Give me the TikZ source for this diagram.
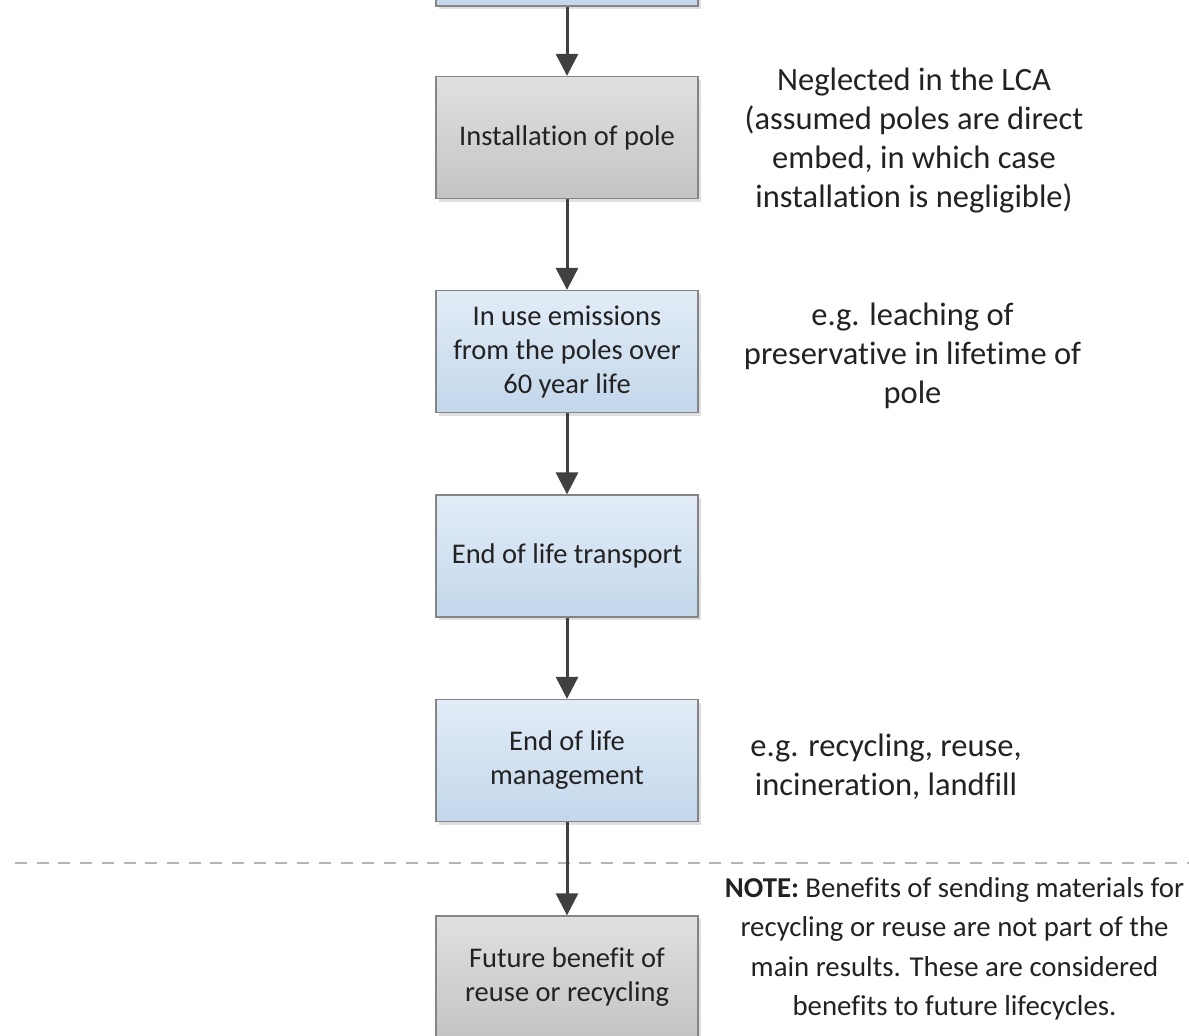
\documentclass[tikz,border=0pt]{standalone}
\usepackage{fontspec}
\setmainfont{Carlito}[Ligatures=NoCommon]
\usetikzlibrary{arrows.meta,shadows}
\definecolor{edgegray}{HTML}{858585}
\definecolor{arrowgray}{HTML}{404040}
\definecolor{txt}{HTML}{222222}
\definecolor{graytop}{HTML}{E0E0E0}
\definecolor{graybot}{HTML}{C4C4C4}
\definecolor{bluetop}{HTML}{E2ECF7}
\definecolor{bluebot}{HTML}{C3D7EB}
\definecolor{dashgray}{HTML}{B5B5B5}
\tikzset{
  boxbase/.style={draw=edgegray, line width=1.3pt, minimum width=262pt, minimum height=122pt,
    inner sep=0pt, align=center, text=txt,
    font=\fontsize{28.5}{34}\selectfont,
    drop shadow={shadow xshift=3pt, shadow yshift=-3pt, fill=black!18, opacity=0.7}},
  graybox/.style={boxbase, top color=graytop, bottom color=graybot},
  bluebox/.style={boxbase, top color=bluetop, bottom color=bluebot},
  note/.style={align=center, text=txt, inner sep=0pt, font=\fontsize{32.5}{39}\selectfont},
  smallnote/.style={align=center, text=txt, inner sep=0pt, font=\fontsize{28.8}{39.5}\selectfont},
  flow/.style={draw=arrowgray, line width=3pt, -{Triangle[width=22pt,length=22pt]}},
  sep/.style={draw=dashgray, line width=2.5pt, dash pattern=on 12pt off 9.7pt}
}
\begin{document}
\begin{tikzpicture}[x=1pt,y=-1pt]
\useasboundingbox (0,0) rectangle (1189,1036);
\node[bluebox] (b0) at (567,-55) {};
\node[graybox] (b1) at (567,137.5) {Installation of pole};
\node[bluebox] (b2) at (567,351.5) {In use emissions\\from the poles over\\60 year life};
\node[bluebox] (b3) at (567,556) {End of life transport};
\node[bluebox] (b4) at (567,760.5) {End of life\\management};
\node[graybox] (b5) at (567,977) {Future benefit of\\reuse or recycling};

\coordinate (dl) at (15,863);
\coordinate (dr) at (1189,863);
\draw[sep] (dl) -- (dr);

\draw[flow] (b0.south) -- (b1.north);
\draw[flow] (b1.south) -- (b2.north);
\draw[flow] (b2.south) -- (b3.north);
\draw[flow] (b3.south) -- (b4.north);
\draw[flow] (b4.south) -- (b5.north);

\node[note] (n1) at (914,141) {Neglected in the LCA\\(assumed poles are direct\\embed, in which case\\installation is negligible)};
\node[note] (n2) at (912.5,356) {e.g. leaching of\\preservative in lifetime of\\pole};
\node[note] (n3) at (886,767) {e.g. recycling, reuse,\\incineration, landfill};
\node[smallnote] (n4) at (954.5,949) {\textbf{NOTE:} Benefits of sending materials for\\recycling or reuse are not part of the\\main results. These are considered\\benefits to future lifecycles.};
\end{tikzpicture}
\end{document}
